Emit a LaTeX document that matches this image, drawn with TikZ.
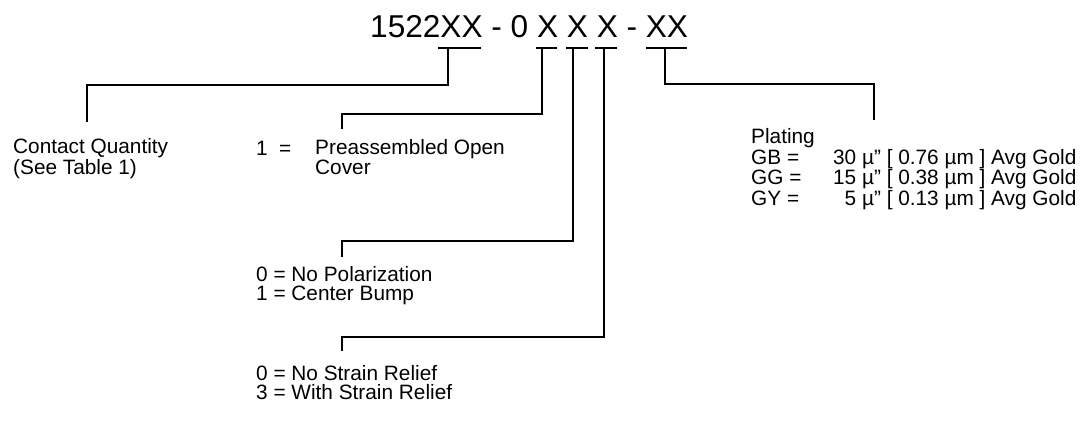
\documentclass[tikz,border=0pt]{standalone}
\usepackage{fontspec}
\setmainfont{Liberation Sans}
\begin{document}
\begin{tikzpicture}[x=1pt,y=-1pt,
  conn/.style={draw=black,line width=1.2pt},
  title/.style={font=\fontsize{31.6}{34}\selectfont,inner sep=0pt,anchor=base west},
  lbl/.style={font=\fontsize{20.8}{18.8}\selectfont,inner sep=0pt,anchor=base west,align=left}]
\useasboundingbox (0,0) rectangle (1092,421);
% title
\node[title] (code) at (370,37) {1522XX - 0 X X X - XX};
% underline end points
\coordinate (uaL) at (438,48); \coordinate (uaR) at (481,48); \coordinate (ua) at (448,48);
\coordinate (ubL) at (536,48); \coordinate (ubR) at (557,48); \coordinate (ub) at (542,48);
\coordinate (ucL) at (566,48); \coordinate (ucR) at (588,48); \coordinate (uc) at (573,48);
\coordinate (udL) at (595,48); \coordinate (udR) at (617,48); \coordinate (ud) at (604,48);
\coordinate (ueL) at (646,48); \coordinate (ueR) at (687,48); \coordinate (ue) at (665,48);
\foreach \s in {a,b,c,d,e} {\draw[conn] (u\s L) -- (u\s R);}
% labels (base anchor = baseline of the last line)
\node[lbl] (cq) at (13,174) {Contact Quantity\\(See Table 1)};
\node[lbl] (one) at (256,155) {1};
\node[lbl] (oneeq) at (279,155) {=};
\node[lbl] (pre) at (315,174) {Preassembled Open\\Cover};
\node[lbl] (pol) at (256,300) {0 = No Polarization\\1 = Center Bump};
\node[lbl] (str) at (256,399) {0 = No Strain Relief\\3 = With Strain Relief};
\node[lbl,font=\fontsize{20.8}{17.7}\selectfont] (plat) at (751,205)
 {Plating\\
  \makebox[82pt][l]{GB =}\makebox[23.1pt][r]{30} µ” [ 0.76 µm ] Avg Gold\\
  \makebox[82pt][l]{GG =}\makebox[23.1pt][r]{15} µ” [ 0.38 µm ] Avg Gold\\
  \makebox[82pt][l]{GY =}\makebox[23.1pt][r]{5} µ” [ 0.13 µm ] Avg Gold};
% bend coordinates
\coordinate (a1) at (448,85); \coordinate (a2) at (87,85); \coordinate (a3) at (87,122);
\coordinate (b1) at (542,114); \coordinate (b2) at (342,114); \coordinate (b3) at (342,129);
\coordinate (c1) at (573,241); \coordinate (c2) at (342,241); \coordinate (c3) at (342,257);
\coordinate (d1) at (604,337); \coordinate (d2) at (342,337); \coordinate (d3) at (342,351);
\coordinate (e1) at (665,84); \coordinate (e2) at (874,84); \coordinate (e3) at (874,120);
\draw[conn] (ua) -- (a1) -- (a2) -- (a3);
\draw[conn] (ub) -- (b1) -- (b2) -- (b3);
\draw[conn] (uc) -- (c1) -- (c2) -- (c3);
\draw[conn] (ud) -- (d1) -- (d2) -- (d3);
\draw[conn] (ue) -- (e1) -- (e2) -- (e3);
\end{tikzpicture}
\end{document}
